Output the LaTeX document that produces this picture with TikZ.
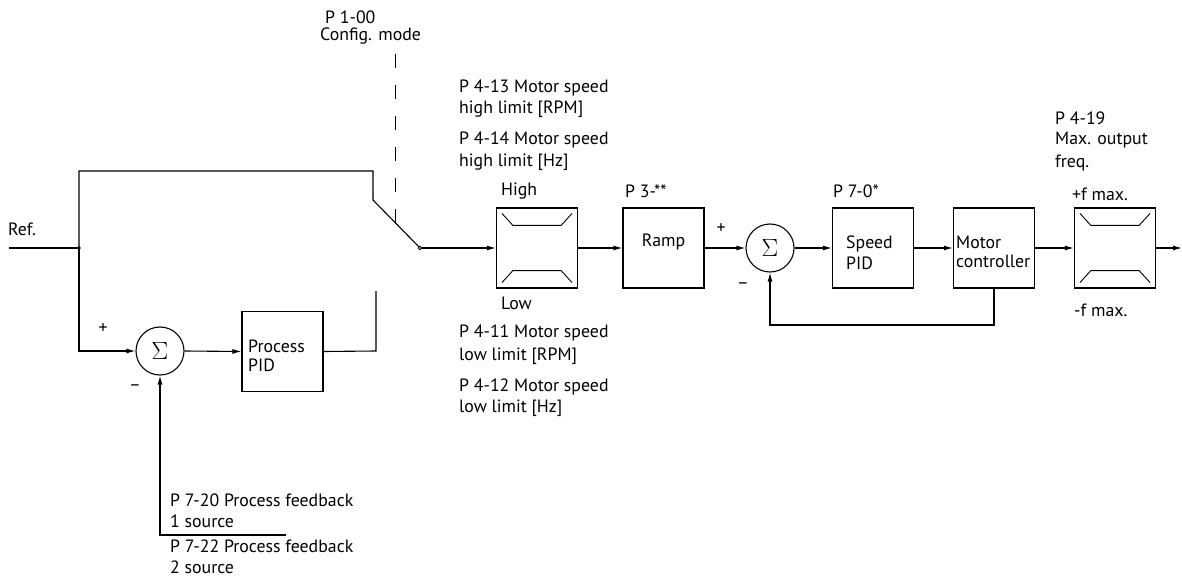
\documentclass[tikz,border=0pt]{standalone}
\usepackage{fontspec}
\setmainfont{PT Sans}
\usetikzlibrary{arrows.meta}
\begin{document}
\begin{tikzpicture}[x=1pt,y=-1pt,
  wire/.style={line width=1.1pt},
  arr/.style={wire,-{Latex[length=9pt,width=5pt]}},
  blk/.style={draw,line width=1.1pt,minimum width=81pt,minimum height=80pt,inner sep=0pt},
  sumc/.style={draw,circle,line width=1.1pt,minimum size=48pt,inner sep=0pt},
  lbl/.style={inner sep=0pt,anchor=west,font=\fontsize{17.8}{20}\selectfont},
  sym/.style={inner sep=0pt,font=\fontsize{17.8}{20}\selectfont},
  sigma/.style={inner sep=0pt,font=\fontsize{24}{26}\selectfont},
  lim/.style={line width=0.9pt}]
\useasboundingbox (0,0) rectangle (1182,577);
% blocks
\node[blk] (lim1) at (537,248) {};
\node[blk] (ramp) at (663.5,248) {};
\node[sumc] (sum2) at (770,248) {};
\node[blk] (spid) at (873,248) {};
\node[blk] (mctl) at (994,248) {};
\node[blk] (lim2) at (1115,248) {};
\node[sumc] (sum1) at (160,351) {};
\node[blk] (ppid) at (282.5,351.5) {};
% texts in blocks
\node[sigma] (sig1) at (sum1) {$\Sigma$};
\node[sigma] (sig2) at (sum2) {$\Sigma$};
\node[sym] (ramptxt) at (663.5,242) {Ramp};
\node[lbl] (sp1) at (846,244) {Speed};
\node[lbl] (sp2) at (846,263) {PID};
\node[lbl] (mc1) at (956,242) {Motor};
\node[lbl] (mc2) at (956,261) {controller};
\node[lbl] (pp1) at (248,346) {Process};
\node[lbl] (pp2) at (248,365) {PID};
% limiter symbols
\foreach \b in {lim1,lim2}{
  \draw[lim] ([shift={(6,6)}]\b.north west) -- ++(11,12) -- ([shift={(-17,18)}]\b.north east) -- ([shift={(-6,6)}]\b.north east);
  \draw[lim] ([shift={(6,-6)}]\b.south west) -- ++(11,-12) -- ([shift={(-17,-18)}]\b.south east) -- ([shift={(-6,-6)}]\b.south east);
}
% coordinates
\coordinate (refstart) at (9,248);
\coordinate (j1) at (79,248);
\coordinate (tl) at (79,171);
\coordinate (tr) at (373,171);
\coordinate (sw) at (373,200);
\coordinate (swend) at (420,248);
\coordinate (outend) at (1182,248);
\coordinate (pe) at (376,351);
\coordinate (pt) at (376,291);
\coordinate (fb1) at (160,535);
\coordinate (fb2) at (286,535);
\coordinate (dtop) at (395,54);
\coordinate (dbot) at (395,223);
% wires
\draw[wire] (refstart) -- (j1);
\draw[wire] (j1) -- (tl) -- (tr) -- (sw) -- (swend);
\draw[arr] (j1) |- (sum1.west);
\draw[arr] (sum1.east) -- (ppid.west);
\draw[wire] (ppid.east) -- (pe) -- (pt);
\draw[arr] (fb2) -- (fb1) -- (sum1.south);
\draw[arr] (swend) -- (lim1.west);
\draw[arr] (lim1.east) -- (ramp.west);
\draw[arr] (ramp.east) -- (sum2.west);
\draw[arr] (sum2.east) -- (spid.west);
\draw[arr] (spid.east) -- (mctl.west);
\draw[arr] (mctl.east) -- (lim2.west);
\draw[arr] (lim2.east) -- (outend);
\draw[arr] (mctl.south) |- (770,325) -- (sum2.south);
\draw[line width=1pt,dash pattern=on 14pt off 17pt] (dtop) -- (dbot);
\fill (j1) circle (1.8);
\draw[line width=0.8pt,fill=white] (swend) circle (1.8);
% labels
\node[lbl] (ref) at (8,229) {Ref.};
\node[lbl] (p100) at (325,17) {P 1-00};
\node[lbl] (cfg) at (320,36) {Config. mode};
\node[lbl] (p413a) at (459,88) {P 4-13 Motor speed};
\node[lbl] (p413b) at (459,109) {high limit [RPM]};
\node[lbl] (p414a) at (459,140) {P 4-14 Motor speed};
\node[lbl] (p414b) at (459,162) {high limit [Hz]};
\node[lbl] (high) at (501,191) {High};
\node[lbl] (low) at (501,303) {Low};
\node[lbl] (p411a) at (459,333) {P 4-11 Motor speed};
\node[lbl] (p411b) at (459,356) {low limit [RPM]};
\node[lbl] (p412a) at (459,387) {P 4-12 Motor speed};
\node[lbl] (p412b) at (459,408) {low limit [Hz]};
\node[lbl] (p3) at (625,191) {P 3-**};
\node[lbl] (p70) at (833,191) {P 7-0*};
\node[lbl] (p419a) at (1055,118) {P 4-19};
\node[lbl] (p419b) at (1055,140) {Max. output};
\node[lbl] (p419c) at (1055,163) {freq.};
\node[lbl] (pf) at (1072,194) {+f max.};
\node[lbl] (mf) at (1074,310) {-f max.};
\node[sym] (plus2) at (721,229) {+};
\node[sym] (minus2) at (743,286) {–};
\node[sym] (plus1) at (103,329) {+};
\node[sym] (minus1) at (135,388) {–};
\node[lbl] (fba) at (170,500) {P 7-20 Process feedback};
\node[lbl] (fbb) at (170,521) {1 source};
\node[lbl] (fbc) at (170,546) {P 7-22 Process feedback};
\node[lbl] (fbd) at (170,567) {2 source};
\end{tikzpicture}
\end{document}
